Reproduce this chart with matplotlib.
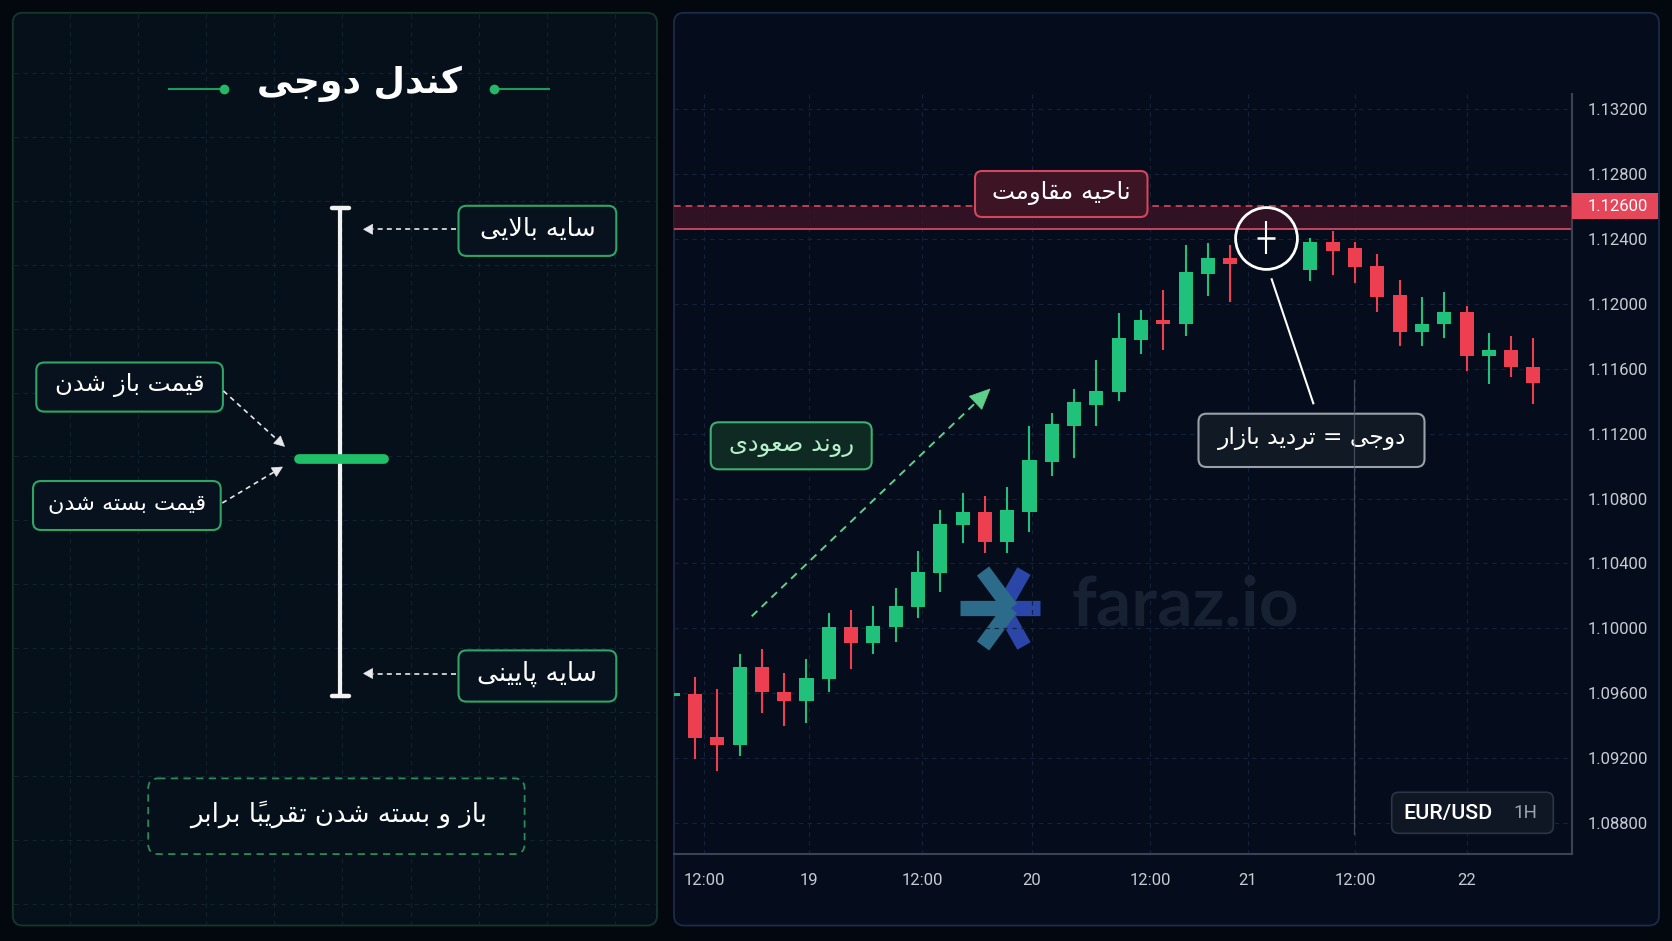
import numpy as np
import matplotlib
matplotlib.use("Agg")
import matplotlib.pyplot as plt
from matplotlib.patches import FancyBboxPatch, Rectangle, Polygon

# ------------------------------------------------------------------ data
candle_x = [-1, 0, 1, 2, 3, 4, 5, 6, 7, 8, 9, 10, 11, 12, 13, 14, 15, 16, 17, 18, 19,
            20, 21, 22, 23, 24, 25.6, 27.6, 28.6, 29.6, 30.6, 31.6, 32.6, 33.6,
            34.6, 35.6, 36.6, 37.6]
opens = [1.09585, 1.09596, 1.09333, 1.09282, 1.09760, 1.09610, 1.09551, 1.09688, 1.10010,
         1.09910, 1.10010, 1.10132, 1.10341, 1.10635, 1.10715, 1.10534, 1.10719,
         1.11027, 1.11248, 1.11374, 1.11456, 1.11776, 1.11899, 1.11873, 1.12181,
         1.12279, 1.12406, 1.12207, 1.12381, 1.12341, 1.12232, 1.12051, 1.11825,
         1.11873, 1.11947, 1.11676, 1.11713, 1.11612]
highs = [1.09615, 1.09702, 1.09627, 1.09842, 1.09871, 1.09723, 1.09809, 1.10097, 1.10113,
         1.10140, 1.10247, 1.10478, 1.10729, 1.10834, 1.10815, 1.10869, 1.11248,
         1.11328, 1.11476, 1.11653, 1.11944, 1.11959, 1.12084, 1.12363, 1.12372,
         1.12361, 1.12509, 1.12404, 1.12450, 1.12380, 1.12304, 1.12146, 1.12039,
         1.12072, 1.11985, 1.11821, 1.11801, 1.11787]
lows = [1.09560, 1.09195, 1.09123, 1.09214, 1.09481, 1.09401, 1.09419, 1.09610, 1.09748,
        1.09840, 1.09918, 1.10064, 1.10226, 1.10524, 1.10466, 1.10466, 1.10594,
        1.10940, 1.11049, 1.11248, 1.11398, 1.11690, 1.11714, 1.11798, 1.12047,
        1.12008, 1.12304, 1.12141, 1.12176, 1.12125, 1.11950, 1.11742, 1.11741,
        1.11787, 1.11587, 1.11503, 1.11550, 1.11380]
closes = [1.09600, 1.09327, 1.09282, 1.09760, 1.09606, 1.09551, 1.09694, 1.10010, 1.09910,
          1.10016, 1.10138, 1.10345, 1.10641, 1.10715, 1.10534, 1.10729, 1.11035,
          1.11259, 1.11396, 1.11464, 1.11790, 1.11899, 1.11875, 1.12197, 1.12281,
          1.12244, 1.12406, 1.12381, 1.12326, 1.12226, 1.12044, 1.11824, 1.11876,
          1.11947, 1.11676, 1.11713, 1.11608, 1.11509]

y_ticks = [1.088, 1.092, 1.096, 1.100, 1.104, 1.108, 1.112, 1.116, 1.120, 1.124, 1.128, 1.132]
x_tick_pos = [0.4, 5.1, 10.2, 15.1, 20.4, 24.8, 29.6, 34.6]
x_tick_labels = ['12:00', '19', '12:00', '20', '12:00', '21', '12:00', '22']

resistance_top = 1.12600
resistance_bottom = 1.12458
symbol = 'EUR/USD'
timeframe = '1H'

title_text = 'کندل دوجی'
upper_shadow = 'سایه بالایی'
lower_shadow = 'سایه پایینی'
open_price = 'قیمت باز شدن'
close_price = 'قیمت بسته شدن'
bottom_note = 'باز و بسته شدن تقریباً برابر'
resist_label = 'ناحیه مقاومت'
doji_label = 'دوجی = تردید بازار'
trend_label = 'روند صعودی'

# ------------------------------------------------------------------ persian shaping
FORMS = {
    '\u0627': ('\uFE8D', '\uFE8E', None, None),
    '\u0628': ('\uFE8F', '\uFE90', '\uFE91', '\uFE92'),
    '\u067E': ('\uFB56', '\uFB57', '\uFB58', '\uFB59'),
    '\u062A': ('\uFE95', '\uFE96', '\uFE97', '\uFE98'),
    '\u062C': ('\uFE9D', '\uFE9E', '\uFE9F', '\uFEA0'),
    '\u062D': ('\uFEA1', '\uFEA2', '\uFEA3', '\uFEA4'),
    '\u062F': ('\uFEA9', '\uFEAA', None, None),
    '\u0631': ('\uFEAD', '\uFEAE', None, None),
    '\u0632': ('\uFEAF', '\uFEB0', None, None),
    '\u0633': ('\uFEB1', '\uFEB2', '\uFEB3', '\uFEB4'),
    '\u0634': ('\uFEB5', '\uFEB6', '\uFEB7', '\uFEB8'),
    '\u0635': ('\uFEB9', '\uFEBA', '\uFEBB', '\uFEBC'),
    '\u0639': ('\uFEC9', '\uFECA', '\uFECB', '\uFECC'),
    '\u0642': ('\uFED5', '\uFED6', '\uFED7', '\uFED8'),
    '\u06A9': ('\uFB8E', '\uFB8F', '\uFB90', '\uFB91'),
    '\u0644': ('\uFEDD', '\uFEDE', '\uFEDF', '\uFEE0'),
    '\u0645': ('\uFEE1', '\uFEE2', '\uFEE3', '\uFEE4'),
    '\u0646': ('\uFEE5', '\uFEE6', '\uFEE7', '\uFEE8'),
    '\u0647': ('\uFEE9', '\uFEEA', '\uFEEB', '\uFEEC'),
    '\u0648': ('\uFEED', '\uFEEE', None, None),
    '\u06CC': ('\uFBFC', '\uFBFD', '\uFBFE', '\uFBFF'),
}
MARKS = {'\u064B'}


def fa(s):
    clusters = []
    for ch in s:
        if ch in MARKS and clusters:
            clusters[-1][1].append(ch)
        else:
            clusters.append([ch, []])
    n = len(clusters)

    def dual(c):
        return c in FORMS and FORMS[c][2] is not None

    out = []
    i = 0
    while i < n:
        c, m = clusters[i]
        if c not in FORMS:
            out.append((c, m))
            i += 1
            continue
        prev = clusters[i - 1][0] if i > 0 else None
        jp = prev is not None and dual(prev)
        if c == '\u0644' and i + 1 < n and clusters[i + 1][0] == '\u0627':
            out.append(('\uFEFC' if jp else '\uFEFB', m + clusters[i + 1][1]))
            i += 2
            continue
        nxt = clusters[i + 1][0] if i + 1 < n else None
        jn = dual(c) and nxt is not None and nxt in FORMS
        f = FORMS[c]
        if jp and jn:
            g = f[3]
        elif jp:
            g = f[1]
        elif jn:
            g = f[2]
        else:
            g = f[0]
        out.append((g, m))
        i += 1
    out.reverse()
    return ''.join(b + ''.join(mm) for b, mm in out)


# ------------------------------------------------------------------ figure
W, H = 1672, 941
fig = plt.figure(figsize=(W / 100, H / 100), dpi=100, facecolor='#03080f')
renderer = fig.canvas.get_renderer()

bg = fig.add_axes([0, 0, 1, 1], zorder=0)
bg.set_xlim(0, W)
bg.set_ylim(H, 0)
bg.axis('off')

top = fig.add_axes([0, 0, 1, 1], zorder=2)
top.set_xlim(0, W)
top.set_ylim(H, 0)
top.axis('off')
top.patch.set_alpha(0)

GREEN = '#20c27b'
RED = '#ee3f50'
FA_FONT = ['DejaVu Sans']


def rbox(axh, x0, y0, x1, y1, fc, ec, lw=1.5, ls='-', r=8, z=2, alpha=1.0):
    p = FancyBboxPatch((x0, y0), x1 - x0, y1 - y0,
                       boxstyle=f"round,pad=0,rounding_size={r}",
                       fc=fc, ec=ec, lw=lw, ls=ls, zorder=z, alpha=alpha)
    axh.add_patch(p)
    return p


def darrow(axh, x0, y0, x1, y1, color, lw, head_len, head_w, dash=(3, 2.5), z=3):
    d = np.hypot(x1 - x0, y1 - y0)
    ux, uy = (x1 - x0) / d, (y1 - y0) / d
    bx, by = x1 - ux * head_len, y1 - uy * head_len
    axh.plot([x0, bx], [y0, by], color=color, lw=lw, ls=(0, dash), zorder=z)
    px, py = -uy, ux
    tri = [(x1, y1), (bx + px * head_w, by + py * head_w), (bx - px * head_w, by - py * head_w)]
    axh.add_patch(Polygon(tri, closed=True, fc=color, ec=color, lw=0.5, zorder=z))


def fit_text(axh, x, y, s, width_px, z=5, **kw):
    t = axh.text(x, y, s, fontsize=20, zorder=z, **kw)
    bb = t.get_window_extent(renderer=renderer)
    t.set_fontsize(20 * width_px / bb.width)
    return t


# ------------------------------------------------------------------ panels
rbox(bg, 12.8, 12.8, 657, 925.5, fc='#06101b', ec='#15382a', lw=1.3, r=10, z=1)
rbox(bg, 674, 12.8, 1659, 925.5, fc='#050c1b', ec='#1b2b4a', lw=1.3, r=10, z=1)

# left grid
for k in range(9):
    gx = 70 + 68.1 * k
    bg.plot([gx, gx], [14, 924], color='#13222f', lw=0.8, ls=(0, (4, 4)), zorder=1.5)
for k in range(14):
    gy = 73 + 63.9 * k
    bg.plot([14, 656], [gy, gy], color='#13222f', lw=0.8, ls=(0, (4, 4)), zorder=1.5)

# title
fit_text(bg, 359, 84, fa(title_text), 205, color='white', fontweight='bold',
         ha='center', va='center', family=FA_FONT)
bg.plot([169, 224], [89, 89], color='#1f9a58', lw=1.5, zorder=3)
bg.plot([494, 549], [89, 89], color='#1f9a58', lw=1.5, zorder=3)
bg.plot([224, 494], [89, 89], ls='none', marker='o', ms=6, color='#22b866', zorder=3)

# schematic doji
bg.plot([340.2, 340.2], [208, 696], color='#f2f2f2', lw=3.0, zorder=3, solid_capstyle='butt')
bg.plot([332, 349], [208, 208], color='#f2f2f2', lw=3.2, zorder=3, solid_capstyle='round')
bg.plot([332, 349], [696, 696], color='#f2f2f2', lw=3.2, zorder=3, solid_capstyle='round')
bg.plot([299, 383.5], [458.5, 458.5], color='#1fbf68', lw=7, zorder=4, solid_capstyle='round')

BOX_FC = '#07121e'
BOX_EC = '#2fa564'
rbox(bg, 458.5, 205.8, 616.3, 255.9, BOX_FC, BOX_EC)
rbox(bg, 458.5, 650.4, 616.3, 701.6, BOX_FC, BOX_EC)
rbox(bg, 36.3, 362.5, 222.9, 411.6, BOX_FC, BOX_EC)
rbox(bg, 33.0, 481.0, 220.7, 530.0, BOX_FC, BOX_EC)
rbox(bg, 148.2, 778.4, 524.6, 854.1, '#06101b', '#2a8c55', lw=1.3, ls=(0, (4, 3)), r=10)

fit_text(bg, 537.4, 229, fa(upper_shadow), 115, color='white', ha='center', va='center', family=FA_FONT)
fit_text(bg, 537.4, 674, fa(lower_shadow), 120, color='white', ha='center', va='center', family=FA_FONT)
fit_text(bg, 129.6, 385, fa(open_price), 150, color='white', ha='center', va='center', family=FA_FONT)
fit_text(bg, 126.9, 503.5, fa(close_price), 158, color='white', ha='center', va='center', family=FA_FONT)
fit_text(bg, 338.8, 814, fa(bottom_note), 297, color='white', ha='center', va='center', family=FA_FONT)

WH = '#e6e8ea'
darrow(bg, 456, 229.3, 363.6, 229.3, WH, 1.2, 9, 5)
darrow(bg, 456, 673.5, 363.6, 673.5, WH, 1.2, 9, 5)
darrow(bg, 223.5, 391, 284.5, 446.4, WH, 1.2, 10, 5)
darrow(bg, 222.3, 503, 282.4, 467, WH, 1.2, 10, 5)

# watermark
logo_c = (1006.7, 608.3)
for ex, ey in [(1040, 608.3), (1024, 571), (1024, 646)]:
    bg.plot([logo_c[0] - 4, ex], [logo_c[1], ey], color='#2a46a8', lw=11, solid_capstyle='butt', zorder=2)
for ex, ey in [(960, 608.3), (983, 571), (983, 646)]:
    bg.plot([logo_c[0] + 4, ex], [logo_c[1], ey], color='#2c6c8a', lw=11, solid_capstyle='butt', zorder=2.1)
fit_text(bg, 1071.7, 606, 'faraz.io', 227, z=2, color='#172131', fontweight='bold',
         ha='left', va='center', family=['Lato', 'DejaVu Sans'])

# ------------------------------------------------------------------ chart
ax = fig.add_axes([674 / W, (H - 854) / H, 898 / W, 760 / H], zorder=1)
ax.set_facecolor('none')
ax.set_xlim(-0.942, 39.33)
ax.set_ylim(1.08611, 1.13291)
ax.set_axisbelow(True)

ax.set_yticks(y_ticks)
ax.set_yticklabels([f'{v:.5f}' for v in y_ticks])
ax.set_xticks(x_tick_pos)
ax.set_xticklabels(x_tick_labels)
ax.yaxis.tick_right()
ax.tick_params(axis='y', length=0, pad=11.3, labelsize=12, labelcolor='#c6cbd4')
ax.tick_params(axis='x', length=0, pad=13.5, labelsize=12, labelcolor='#c6cbd4')
for lbl in ax.get_xticklabels() + ax.get_yticklabels():
    lbl.set_fontfamily('Roboto')
ax.grid(True, color='#16223a', lw=0.8, ls=(0, (4, 4)))
for s in ['left', 'top']:
    ax.spines[s].set_visible(False)
for s in ['right', 'bottom']:
    ax.spines[s].set_color('#3a4254')
    ax.spines[s].set_linewidth(1.5)

# resistance zone
ax.axhspan(resistance_bottom, resistance_top, color='#3a1426', alpha=0.85, zorder=1, lw=0)
ax.axhline(resistance_top, color='#d64a5d', lw=1.2, ls=(0, (4, 3)), zorder=1.5)
ax.axhline(resistance_bottom, color='#c5445a', lw=1.4, zorder=1.5)

# candles
body_w = 0.63
for x, o, h, l, c in zip(candle_x, opens, highs, lows, closes):
    if c > o:
        col = GREEN
    elif c < o:
        col = RED
    else:
        col = '#ffffff'
    ax.vlines(x, l, h, color=col, lw=1.5, zorder=3)
    if c == o:
        ax.hlines(o, x - 0.4, x + 0.4, color=col, lw=1.8, zorder=3)
        ax.plot([x], [o], 'o', ms=44.5, mfc='none', mec='white', mew=2.0, zorder=5)
    else:
        ax.bar(x, max(abs(c - o), 0.00012), bottom=min(o, c), width=body_w,
               color=col, zorder=4, lw=0)

# red price label on axis
ylab_h = 0.00079
ax.add_patch(Rectangle((1.0, resistance_top - ylab_h), 86 / 898, 2 * ylab_h,
                       transform=ax.get_yaxis_transform(), clip_on=False,
                       fc='#e5465a', ec='none', zorder=6))
ax.text(1.0 + 15.7 / 898, resistance_top, f'{resistance_top:.5f}', transform=ax.get_yaxis_transform(),
        ha='left', va='center', color='white', fontsize=12, family='Roboto', zorder=7, clip_on=False)

# ------------------------------------------------------------------ chart annotations
rbox(top, 975, 171, 1147.5, 217, '#3c1424', '#d4465a', lw=1.5, r=7)
fit_text(top, 1061, 192.5, fa(resist_label), 139, color='white', ha='center', va='center', family=FA_FONT)

top.plot([1271.7, 1313.3], [279.3, 403.3], color='white', lw=1.5, zorder=3)
rbox(top, 1198.5, 413.7, 1424.5, 467, '#111925', '#9aa1ab', lw=1.5, r=8)
fit_text(top, 1312, 438.5, fa(doji_label), 189, color='white', ha='center', va='center', family=FA_FONT)
top.plot([1354.3, 1354.3], [380, 834], color='#5a6374', lw=0.9, alpha=0.7, zorder=6)

rbox(top, 710.7, 422.3, 871.7, 469.3, '#0e2a22', '#3fae6e', lw=1.5, r=8)
fit_text(top, 791.5, 444.5, fa(trend_label), 125, color='#b6efca', ha='center', va='center', family=FA_FONT)
darrow(top, 751.7, 616.3, 990, 389, '#5fd08a', 1.4, 20, 9, dash=(4, 3))

rbox(top, 1391.7, 792.3, 1553.3, 833.3, '#0f1724', '#2b3546', lw=1.2, r=7)
fit_text(top, 1403, 813.3, symbol, 89, color='white', fontweight='medium', ha='left', va='center',
         family=['Roboto', 'DejaVu Sans'])
fit_text(top, 1513, 813.3, timeframe, 24, color='#9aa3b1', ha='left', va='center',
         family=['Roboto', 'DejaVu Sans'])

fig.savefig('out.png', dpi=100, facecolor=fig.get_facecolor())
